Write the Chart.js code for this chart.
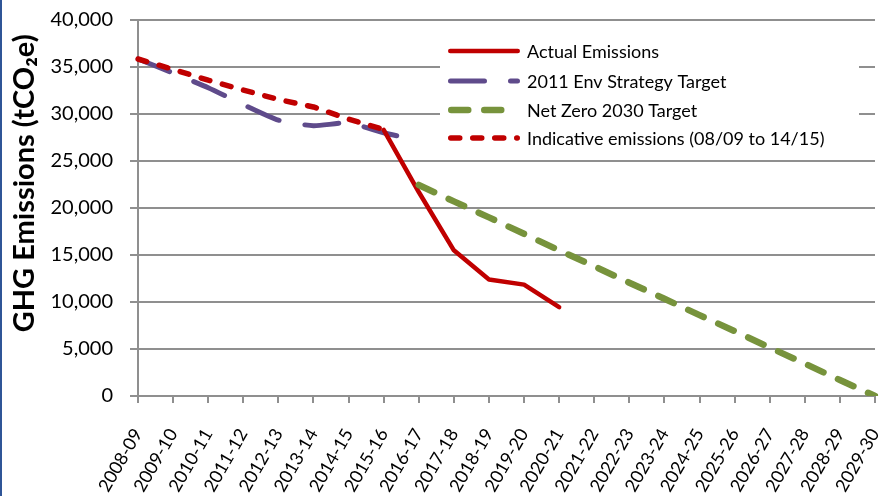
<!DOCTYPE html>
<html>
<head>
<meta charset="utf-8">
<script src="https://cdn.jsdelivr.net/npm/chart.js@4/dist/chart.umd.min.js"></script>
<style>
  html, body { margin: 0; padding: 0; background: #fff; }
  #wrap { width: 889px; height: 496px; border-left: 2px solid #2f5597; }
  canvas { display: block; }
</style>
</head>
<body>
<div id="wrap"><canvas id="c" width="889" height="496"></canvas></div>
<script>
const categories = ['2008-09','2009-10','2010-11','2011-12','2012-13','2013-14','2014-15','2015-16','2016-17','2017-18','2018-19','2019-20','2020-21','2021-22','2022-23','2023-24','2024-25','2025-26','2026-27','2027-28','2028-29','2029-30'];
const actualEmissions = [null,null,null,null,null,null,null,28300,21700,15500,12400,11850,9450,null,null,null,null,null,null,null,null,null];
const envStrategyTarget = [35850,34350,32800,31000,29350,28750,29050,28000,27200,null,null,null,null,null,null,null,null,null,null,null,null,null];
const netZeroTarget = [null,null,null,null,null,null,null,null,22450,20700,19000,17250,15500,13800,12050,10350,8600,6900,5150,3450,1700,0];
const indicativeEmissions = [35850,34750,33600,32550,31550,30750,29450,28350,null,null,null,null,null,null,null,null,null,null,null,null,null,null];
const seriesNames = ['Actual Emissions','2011 Env Strategy Target','Net Zero 2030 Target','Indicative emissions (08/09 to 14/15)'];
const yTickValues = [0,5000,10000,15000,20000,25000,30000,35000,40000];

const FONT = "Lato, 'Open Sans', 'Noto Sans', sans-serif";

const legendPlugin = {
  id: 'insideLegend',
  afterDatasetsDraw(chart) {
    const ctx = chart.ctx;
    const a = chart.chartArea;
    ctx.save();
    ctx.fillStyle = '#ffffff';
    ctx.fillRect(a.left + 302, a.top + 16, 419, 118);
    const x0 = a.left + 310;
    const len = 72;
    const rows = [a.top + 31, a.top + 61, a.top + 90, a.top + 118];
    [0, 1, 2, 3].forEach((di, i) => {
      const ds = chart.data.datasets[di];
      const y = rows[i];
      ctx.beginPath();
      ctx.strokeStyle = ds.borderColor;
      ctx.lineWidth = ds.borderWidth;
      ctx.lineCap = ds.borderCapStyle || 'butt';
      ctx.setLineDash(ds.borderDash || []);
      ctx.moveTo(x0 + ds.borderWidth / 2, y);
      ctx.lineTo(x0 + len - ds.borderWidth / 2, y);
      ctx.stroke();
      ctx.setLineDash([]);
      ctx.fillStyle = '#000';
      ctx.font = '18px ' + FONT;
      ctx.textBaseline = 'middle';
      ctx.textAlign = 'left';
      ctx.fillText(ds.label, x0 + len + 7, y + 1);
    });
    ctx.restore();
  }
};

new Chart(document.getElementById('c'), {
  type: 'line',
  data: {
    labels: categories,
    datasets: [
      { label: seriesNames[0], data: actualEmissions, borderColor: '#c00000', borderWidth: 4.5, borderCapStyle: 'round', borderJoinStyle: 'round', pointRadius: 0, tension: 0, order: 2 },
      { label: seriesNames[1], data: envStrategyTarget, borderColor: '#5f4b8b', borderWidth: 5, borderDash: [34, 26], borderCapStyle: 'round', borderJoinStyle: 'round', pointRadius: 0, tension: 0.2, order: 3 },
      { label: seriesNames[2], data: netZeroTarget, borderColor: '#77933c', borderWidth: 6.5, borderDash: [17, 16], borderCapStyle: 'round', borderJoinStyle: 'round', pointRadius: 0, tension: 0, order: 0 },
      { label: seriesNames[3], data: indicativeEmissions, borderColor: '#c00000', borderWidth: 5.5, borderDash: [9, 13], borderCapStyle: 'round', borderJoinStyle: 'round', pointRadius: 0, tension: 0, order: 1 }
    ]
  },
  options: {
    responsive: false,
    animation: false,
    devicePixelRatio: 1,
    layout: { padding: { top: 20, right: 16, left: 0, bottom: 0 } },
    plugins: { legend: { display: false }, tooltip: { enabled: false } },
    scales: {
      x: {
        offset: false,
        grid: { display: true, drawOnChartArea: false, drawTicks: true, tickLength: 7, color: '#8f8f8f', lineWidth: 2 },
        border: { display: true, color: '#8f8f8f', width: 2 },
        ticks: { autoSkip: false, minRotation: 60, maxRotation: 60, padding: 22, color: '#000', font: { family: FONT, size: 18 } },
        afterFit(scale) { scale.height = 100; scale.paddingLeft = 0; scale.paddingRight = 0; }
      },
      y: {
        min: 0, max: 40000,
        afterBuildTicks(scale) { scale.ticks = yTickValues.map(v => ({ value: v })); },
        grid: { color: '#8f8f8f', lineWidth: 2, tickLength: 8 },
        border: { display: true, color: '#8f8f8f', width: 2 },
        ticks: { padding: 17, color: '#000', font: { family: FONT, size: 20 },
          callback: v => v.toLocaleString('en-US') },
        title: { display: true, text: '       GHG Emissions (tCO\u2082e)', color: '#000', font: { family: FONT, size: 29, weight: 'bold' }, padding: { top: 5, bottom: 0 } },
        afterFit(scale) { scale.width = 136; scale.paddingTop = 0; scale.paddingBottom = 0; }
      }
    }
  },
  plugins: [legendPlugin]
});
</script>
</body>
</html>
